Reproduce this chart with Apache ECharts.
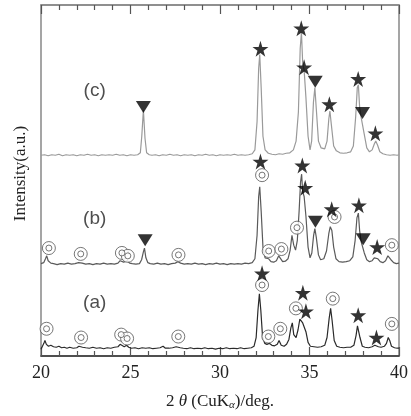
<!DOCTYPE html>
<html>
<head>
<meta charset="utf-8">
<script src="https://cdn.jsdelivr.net/npm/echarts@6/dist/echarts.min.js"></script>
<style>
html,body{margin:0;padding:0;background:#fff;}
#chart{width:411px;height:416px;}
</style>
</head>
<body>
<div id="chart"></div>
<script>
// ---- data (2θ in degrees, intensity in arbitrary units) ----
const xTicks = [20, 25, 30, 35, 40];
const offsetA = 7, offsetB = 94, offsetC = 206;

const patternC = [[20.0,0.5],[20.2,1],[20.4,0],[20.6,1],[20.8,0.5],[21.0,1.5],[21.2,0],[21.4,1],[21.6,0.5],[21.8,1],[22.0,0],[22.2,1],[22.4,0.5],[22.6,1.5],[22.8,0.5],[23.0,1],[23.2,0],[23.4,1],[23.6,0.5],[23.8,1],[24.0,0.5],[24.2,1.5],[24.4,0.5],[24.6,1],[24.8,0],[25.0,1],[25.2,0.5],[25.4,1],[25.55,3],[25.63,20],[25.72,47],[25.81,18],[25.9,3],[26.05,1],[26.2,0.5],[26.4,1],[26.6,0],[26.8,1],[27.0,0.5],[27.2,1.5],[27.4,0.5],[27.6,1],[27.8,0],[28.0,1],[28.2,0.5],[28.4,1],[28.6,0],[28.8,1],[29.0,0.5],[29.2,1.5],[29.4,0.5],[29.6,1],[29.8,0],[30.0,1],[30.2,0.5],[30.4,1],[30.6,0.5],[30.8,1.5],[31.0,0.5],[31.2,1],[31.4,0.5],[31.6,1],[31.8,2],[31.95,6],[32.07,35],[32.16,90],[32.22,104],[32.3,70],[32.4,20],[32.52,6],[32.7,2.5],[32.9,1.5],[33.1,1],[33.3,2],[33.5,1.5],[33.7,2.5],[33.9,3],[34.1,6],[34.25,15],[34.38,45],[34.48,110],[34.55,127],[34.62,95],[34.7,88],[34.8,60],[34.92,20],[35.03,6],[35.12,15],[35.22,55],[35.3,70],[35.38,48],[35.5,15],[35.65,8],[35.85,7],[35.98,15],[36.08,38],[36.14,46],[36.22,32],[36.35,10],[36.5,5],[36.7,3],[36.9,2.5],[37.1,3],[37.3,4],[37.45,10],[37.58,40],[37.67,70],[37.73,73],[37.8,50],[37.88,40],[37.96,38],[38.06,22],[38.2,8],[38.35,4],[38.5,6],[38.62,12],[38.7,15],[38.8,11],[38.93,4],[39.1,2],[39.3,1],[39.5,0.5],[39.7,1],[39.9,0.5],[40.0,1]];

const patternB = [[20.0,1],[20.15,2],[20.25,6],[20.32,9],[20.4,4],[20.55,1.5],[20.7,1],[20.9,0],[21.1,1],[21.3,0.5],[21.5,1.5],[21.7,0.5],[21.9,1],[22.1,2],[22.2,3.5],[22.3,1.5],[22.5,0.5],[22.7,1],[22.9,0],[23.1,1],[23.3,0.5],[23.5,1.5],[23.7,0.5],[23.9,1],[24.1,0.5],[24.3,1.5],[24.42,4],[24.52,5],[24.62,2.5],[24.72,3.5],[24.82,4],[24.95,1.5],[25.1,1],[25.3,0.5],[25.5,1],[25.62,5],[25.72,13],[25.78,17],[25.86,7],[25.97,2],[26.1,1],[26.3,0.5],[26.5,1.5],[26.7,0.5],[26.9,1],[27.1,0],[27.3,1],[27.5,1.5],[27.65,3],[27.8,1.5],[28.0,0.5],[28.2,1],[28.4,0.5],[28.6,1.5],[28.8,0.5],[29.0,1],[29.2,0],[29.4,1],[29.6,0.5],[29.8,1.5],[30.0,0.5],[30.2,1],[30.4,0],[30.6,1],[30.8,0.5],[31.0,1],[31.2,0.5],[31.4,1.5],[31.6,1],[31.8,2],[31.95,6],[32.07,30],[32.16,70],[32.22,80],[32.3,55],[32.4,18],[32.52,7],[32.62,5],[32.72,6],[32.85,3],[33.0,2.5],[33.15,4],[33.28,9],[33.38,7],[33.5,3],[33.65,3.5],[33.8,6],[33.92,15],[34.02,30],[34.12,20],[34.22,15],[34.32,25],[34.42,55],[34.5,85],[34.56,93],[34.62,75],[34.7,70],[34.8,50],[34.92,18],[35.03,7],[35.13,12],[35.23,30],[35.3,37],[35.38,28],[35.5,10],[35.62,5],[35.8,6],[35.95,14],[36.08,32],[36.16,39],[36.25,35],[36.35,18],[36.48,6],[36.65,3],[36.85,2.5],[37.05,3],[37.25,4],[37.42,8],[37.55,25],[37.65,48],[37.73,53],[37.8,35],[37.88,24],[37.96,22],[38.06,12],[38.2,5],[38.35,3],[38.5,4],[38.62,7],[38.72,9],[38.82,6],[38.95,3],[39.1,2],[39.25,4],[39.38,9],[39.46,10],[39.55,5],[39.7,2],[39.85,1],[40.0,1.5]];

const patternA = [[20.0,0],[20.08,2],[20.16,6],[20.22,9],[20.3,5],[20.42,3],[20.55,4],[20.7,2.5],[20.85,2],[21.0,3],[21.15,1.5],[21.3,2],[21.45,1],[21.6,2],[21.8,1],[22.0,1.5],[22.12,3],[22.22,4],[22.32,2],[22.5,1.5],[22.7,1],[22.9,2],[23.1,1],[23.3,1.5],[23.5,0.5],[23.7,1.5],[23.9,1],[24.1,2],[24.3,2.5],[24.42,5],[24.52,4],[24.65,2.5],[24.78,4],[24.9,2],[25.05,1],[25.25,1.5],[25.45,0.5],[25.65,1.5],[25.85,1],[26.05,1.5],[26.25,0.5],[26.45,1],[26.65,1.5],[26.82,3],[26.95,1],[27.15,1],[27.35,1.5],[27.55,2.5],[27.65,3.5],[27.78,1.5],[27.95,1],[28.15,0.5],[28.35,1.5],[28.55,0.5],[28.75,1],[28.95,0.5],[29.15,1.5],[29.35,0.5],[29.55,1],[29.75,0],[29.95,1],[30.15,0.5],[30.35,1.5],[30.55,0.5],[30.75,1],[30.95,0.5],[31.15,1.5],[31.35,0.5],[31.55,1],[31.75,1.5],[31.9,3],[32.02,12],[32.12,40],[32.2,57],[32.28,40],[32.38,12],[32.5,6],[32.62,5],[32.75,6],[32.9,4],[33.05,3.5],[33.2,5],[33.3,9],[33.42,4],[33.58,3],[33.72,5],[33.85,10],[33.96,22],[34.04,27],[34.12,15],[34.25,12],[34.36,20],[34.46,31],[34.54,33],[34.62,27],[34.7,29],[34.8,18],[34.92,7],[35.05,3],[35.25,2.5],[35.45,2],[35.65,2.5],[35.85,4],[35.98,12],[36.1,32],[36.18,42],[36.26,30],[36.38,9],[36.52,3],[36.7,2],[36.9,1.5],[37.1,2],[37.3,2],[37.48,4],[37.6,14],[37.68,24],[37.74,26],[37.82,12],[37.95,3],[38.1,2],[38.3,1.5],[38.5,2.5],[38.65,4],[38.75,5],[38.85,2.5],[39.0,2],[39.18,3],[39.3,6],[39.4,12],[39.48,9],[39.58,3],[39.75,1.5],[39.9,1],[40.0,1]];

// peak markers [2θ, level on the stacked intensity axis]
const starMarks = [[32.26,316],[34.54,337],[34.7,297],[36.11,259],[37.72,285],[38.68,229],
  [32.26,200],[34.6,196],[34.76,173],[36.24,151],[37.76,155],[38.78,112],
  [32.35,85],[34.63,65],[34.8,46],[37.72,42],[38.74,19]];
const triangleMarks = [[25.72,256],[35.32,282],[37.96,250],[25.82,119],[35.33,138],[38.0,120]];
const circleMarks = [[20.44,111],[22.22,105],[24.52,106],[24.85,103],[27.68,104],[32.35,186],[32.72,108],[33.43,110],[34.3,132],[36.4,143],[39.6,114],
  [20.31,28],[22.24,19],[24.48,22],[24.81,18],[27.67,20],[32.35,73],[32.7,20],[33.37,28],[34.24,49],[36.3,59],[39.6,33]];
const curveLabels = [['(c)',23.0,273],['(b)',23.0,141],['(a)',23.0,55]];

const shift = (arr, off) => arr.map(p => [p[0], p[1] + off]);
const starPath = 'path://M50,0 L61,35 L98,35 L68,57 L79,91 L50,70 L21,91 L32,57 L2,35 L39,35 Z';

const chart = echarts.init(document.getElementById('chart'), null, {renderer:'canvas'});
const serif = 'Liberation Serif, Times New Roman, serif';
const xAxisBase = {
  type:'value', min:20, max:40, interval:5,
  axisLine:{show:true, lineStyle:{color:'#666', width:1.5}},
  axisTick:{show:true, inside:true, length:9, lineStyle:{color:'#555', width:1.2}},
  minorTick:{show:true, splitNumber:5, length:5, lineStyle:{color:'#555', width:1.2}},
  splitLine:{show:false}, minorSplitLine:{show:false}
};
chart.setOption({
  animation:false,
  backgroundColor:'#fff',
  grid:{left:41, right:10, top:5, bottom:50, show:true, borderColor:'#888', borderWidth:1.5},
  xAxis:[
    Object.assign({}, xAxisBase, {
      position:'bottom',
      axisLine:{show:true, lineStyle:{color:'#333', width:1.5}},
      axisLabel:{show:true, margin:8, fontFamily:serif, fontSize:18, color:'#222',
        formatter: v => xTicks.includes(v) ? String(v) : ''},
      name:'2 {i|θ} (CuK{s|α})/deg.', nameLocation:'middle', nameGap:37,
      nameTextStyle:{fontFamily:serif, fontSize:17, color:'#222',
        rich:{i:{fontFamily:serif, fontStyle:'italic', fontSize:17, color:'#222'},
              s:{fontFamily:serif, fontStyle:'italic', fontSize:11, color:'#222', padding:[7,0,0,0]}}}
    }),
    Object.assign({}, xAxisBase, {position:'top', axisLabel:{show:false}, axisLine:{show:true, lineStyle:{color:'#888', width:1.5}}})
  ],
  yAxis:{type:'value', min:0, max:361, axisLine:{show:false}, axisTick:{show:false}, axisLabel:{show:false}, splitLine:{show:false},
    name:'Intensity(a.u.)', nameLocation:'middle', nameGap:12, nameRotate:90,
    nameTextStyle:{fontFamily:serif, fontSize:17, color:'#222', padding:[0,0,0,14]}},
  series:[
    {type:'line', data:shift(patternC, offsetC), showSymbol:false, lineStyle:{color:'#9a9a9a', width:1.2}, silent:true},
    {type:'line', data:shift(patternB, offsetB), showSymbol:false, lineStyle:{color:'#5a5a5a', width:1.2}, silent:true},
    {type:'line', data:shift(patternA, offsetA), showSymbol:false, lineStyle:{color:'#2a2a2a', width:1.2}, silent:true},
    {type:'scatter', data:circleMarks, symbol:'circle', symbolSize:13, itemStyle:{color:'#fff', borderColor:'#555', borderWidth:1}, silent:true, z:5},
    {type:'scatter', data:circleMarks, symbol:'circle', symbolSize:6, itemStyle:{color:'#fff', borderColor:'#555', borderWidth:1}, silent:true, z:6},
    {type:'scatter', data:starMarks, symbol:starPath, symbolSize:[16,16], itemStyle:{color:'#000'}, silent:true, z:7},
    {type:'scatter', data:triangleMarks, symbol:'triangle', symbolRotate:180, symbolSize:[15,12], itemStyle:{color:'#000'}, silent:true, z:7},
    {type:'scatter', data:curveLabels.map(l => ({name:l[0], value:[l[1], l[2]]})), symbolSize:0, silent:true, z:8,
      label:{show:true, position:'inside', formatter:p => p.name, fontFamily:'Liberation Sans, Arial, sans-serif', fontSize:19, color:'#222'}}
  ]
});
</script>
</body>
</html>
